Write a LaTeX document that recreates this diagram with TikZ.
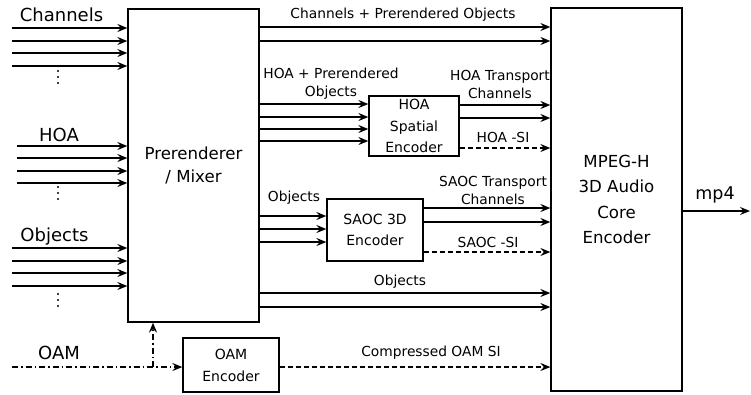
\documentclass[tikz,border=0pt]{standalone}
\usepackage{fontspec}
\setmainfont{DejaVu Sans}
\usepackage{tikz}
\usetikzlibrary{arrows.meta,positioning}

\begin{document}
\begin{tikzpicture}[->,>={Stealth[length=10pt,width=8pt,inset=3.5pt]},line width=1.3pt,
	x=1pt,y=-1pt]
	
	\tikzstyle{block}=[draw,rectangle,inner sep=0pt,align=center]
	\tikzstyle{lbl}=[align=center,inner sep=0pt,font=\fontsize{13.8}{18}\selectfont]
	\tikzstyle{inlbl}=[inner sep=0pt,font=\fontsize{18}{22}\selectfont]
	\tikzstyle{side}=[dash pattern=on 5pt off 3pt]
	\tikzstyle{ctrl}=[dash pattern=on 6pt off 3pt on 1.5pt off 3pt]
	
	\useasboundingbox (0,0) rectangle (751,394);
	
	% blocks
	\node[block,minimum width=131pt,minimum height=313pt,
	font=\fontsize{16.6}{23}\selectfont] (mix) at (193.5,165.5) {Prerenderer\\/ Mixer};
	\node[block,minimum width=131pt,minimum height=383pt,
	font=\fontsize{16.6}{25.5}\selectfont] (core) at (616.5,199.5) {MPEG-H\\3D Audio\\Core\\Encoder};
	\node[block,minimum width=90pt,minimum height=60pt,
	font=\fontsize{14}{21.5}\selectfont] (hoa) at (414,126) {HOA\\Spatial\\Encoder};
	\node[block,minimum width=96pt,minimum height=62pt,
	font=\fontsize{14}{21}\selectfont] (saoc) at (375,230) {SAOC 3D\\Encoder};
	\node[block,minimum width=96pt,minimum height=54pt,
	font=\fontsize{14}{22}\selectfont] (oam) at (231,365) {OAM\\Encoder};
	
	% inputs
	\node[inlbl] (chin) at (61.5,15) {Channels};
	\node[inlbl] (hoain) at (59,135) {HOA};
	\node[inlbl] (objin) at (54.5,237) {Objects};
	\node[inlbl] (oamin) at (59,353) {OAM};
	\foreach \c in {77,193,300}
	\foreach \d in {-6,0,6}
	\fill (58,\c+\d) circle (1.2pt);
	
	\foreach \y in {28,41,53,66}
	\draw (12,\y) -- (mix.west |- 0,\y);
	\foreach \y in {146,158,171,183}
	\draw (17,\y) -- (mix.west |- 0,\y);
	\foreach \y in {248,261,273,286}
	\draw (12,\y) -- (mix.west |- 0,\y);
	
	\coordinate (oamsrc) at (12,367);
	\coordinate (oamtap) at (153,367);
	\draw[ctrl] (oamsrc) -- (oam.west |- oamsrc);
	\draw[ctrl] (oamtap) -- (oamtap |- mix.south);
	
	% mixer outputs
	\node[lbl] (chobj) at (403,15) {Channels + Prerendered Objects};
	\foreach \y in {27,41}
	\draw (mix.east |- 0,\y) -- (core.west |- 0,\y);
	
	\node[lbl] (hoaobj) at (331,84) {HOA + Prerendered\\Objects};
	\foreach \y in {104,117,129,141}
	\draw (mix.east |- 0,\y) -- (hoa.west |- 0,\y);
	
	\node[lbl] (saocobj) at (294,198) {Objects};
	\foreach \y in {216,229,242}
	\draw (mix.east |- 0,\y) -- (saoc.west |- 0,\y);
	
	\node[lbl] (objs) at (400,282) {Objects};
	\foreach \y in {293,307}
	\draw (mix.east |- 0,\y) -- (core.west |- 0,\y);
	
	% encoder outputs
	\node[lbl] (hoatc) at (500,84) {HOA Transport\\Channels};
	\foreach \y in {105,118}
	\draw (hoa.east |- 0,\y) -- (core.west |- 0,\y);
	\node[lbl] (hoasi) at (503,137) {HOA -SI};
	\draw[side] (hoa.east |- 0,148) -- (core.west |- 0,148);
	
	\node[lbl] (saoctc) at (493,190) {SAOC Transport\\Channels};
	\foreach \y in {208,222}
	\draw (saoc.east |- 0,\y) -- (core.west |- 0,\y);
	\node[lbl] (saocsi) at (488,242) {SAOC -SI};
	\draw[side] (saoc.east |- 0,252) -- (core.west |- 0,252);
	
	\node[lbl] (oamsi) at (431,353) {Compressed OAM SI};
	\draw[side] (oam.east |- oamsrc) -- (core.west |- oamsrc);
	
	% output
	\coordinate (out) at (750,211);
	\node[inlbl,font=\fontsize{17.5}{20}\selectfont] (mp4) at (715,195) {mp4};
	\draw (core.east |- out) -- (out);
	
\end{tikzpicture}
\end{document}
